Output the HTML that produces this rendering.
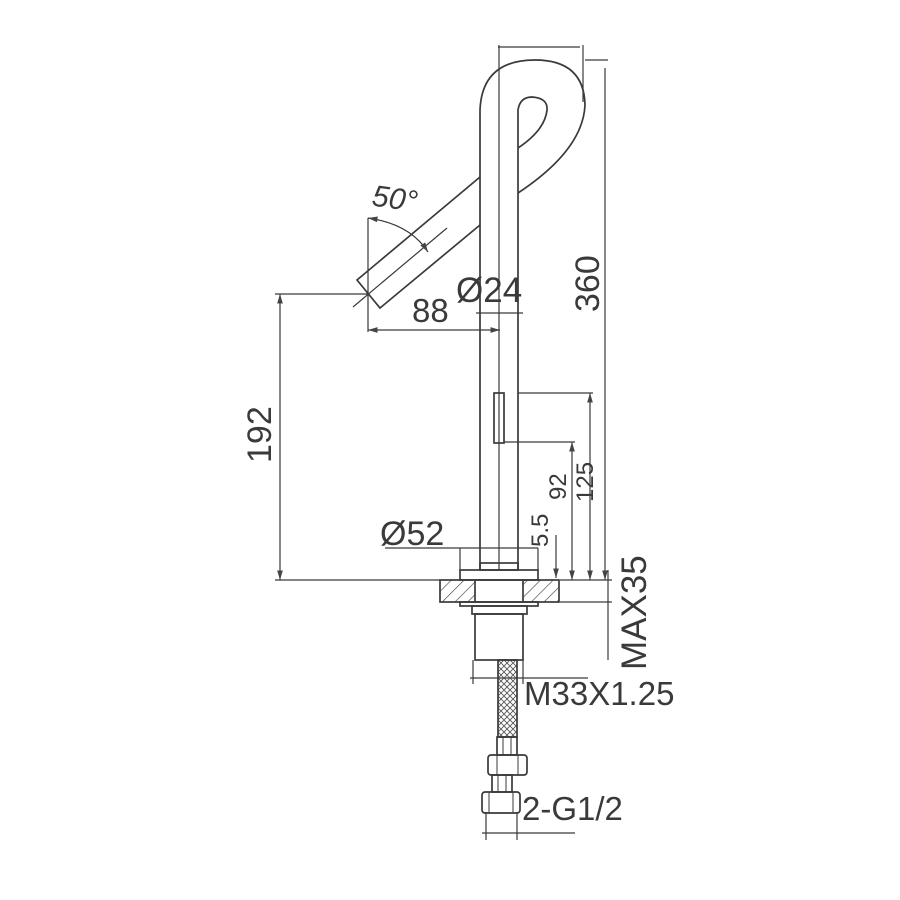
<!DOCTYPE html>
<html><head><meta charset="utf-8"><style>html,body{margin:0;padding:0;background:#fff}svg{display:block}</style></head><body>
<svg width="900" height="900" viewBox="0 0 900 900" xmlns="http://www.w3.org/2000/svg">
<defs>
<pattern id="h" width="9" height="9" patternUnits="userSpaceOnUse" patternTransform="rotate(45)"><line x1="0" y1="0" x2="0" y2="9" stroke="#444" stroke-width="1.3"/></pattern>
<pattern id="br" width="6" height="6" patternUnits="userSpaceOnUse"><path d="M0 6L6 0M0 0L6 6" stroke="#555" stroke-width="0.9"/></pattern>
<marker id="a" viewBox="0 0 10 6" refX="10" refY="3" markerWidth="8" markerHeight="5" orient="auto-start-reverse"><path d="M0 0L10 3L0 6z" fill="#444"/></marker>
</defs>
<g fill="none" stroke="#3a3a3a" stroke-width="1.7">
<path d="M480 570 L480 110 Q482 60 535 60 Q584 60 585 105 Q583 150 518 193"/>
<path d="M518 570 L518 110 Q520 97 532 97 Q548 98 547 110 Q545 130 518 148"/>
<line x1="499" y1="45" x2="499" y2="570" stroke-width="1.2"/>
<path d="M480 177 L357 280 L380 308 L480 225"/>
<line x1="447" y1="228" x2="353" y2="307" stroke-width="1.2"/>
<line x1="368" y1="218" x2="368" y2="332" stroke-width="1.2"/>
<path d="M368 218 Q410 224 428 252" stroke-width="1.2" marker-start="url(#a)" marker-end="url(#a)"/>
<line x1="368" y1="330" x2="500" y2="330" stroke-width="1.2" marker-start="url(#a)" marker-end="url(#a)"/>
<line x1="476" y1="313" x2="523" y2="313" stroke-width="1.2"/>
<line x1="498" y1="47" x2="580" y2="47" stroke-width="1.2"/>
<line x1="583" y1="45" x2="583" y2="102" stroke-width="1.2"/>
<line x1="585" y1="60" x2="608" y2="60" stroke-width="1.2"/>
<line x1="605" y1="68" x2="605" y2="580" stroke-width="1.2" marker-end="url(#a)"/>
<line x1="275" y1="294" x2="368" y2="294" stroke-width="1.2"/>
<line x1="280" y1="294" x2="280" y2="580" stroke-width="1.2" marker-start="url(#a)" marker-end="url(#a)"/>
<line x1="275" y1="580" x2="440" y2="580" stroke-width="1.2"/>
<rect x="494" y="393" width="10" height="50"/>
<line x1="499" y1="393" x2="499" y2="443" stroke-width="1"/>
<line x1="518" y1="393" x2="593" y2="393" stroke-width="1.2"/>
<line x1="590" y1="393" x2="590" y2="580" stroke-width="1.2" marker-start="url(#a)" marker-end="url(#a)"/>
<line x1="504" y1="442" x2="575" y2="442" stroke-width="1.2"/>
<line x1="572" y1="442" x2="572" y2="580" stroke-width="1.2" marker-start="url(#a)" marker-end="url(#a)"/>
<rect x="480" y="563" width="38" height="7"/>
<rect x="460" y="570" width="78" height="10"/>
<line x1="385" y1="548" x2="538" y2="548" stroke-width="1.2"/>
<line x1="460" y1="548" x2="460" y2="570" stroke-width="1.2"/>
<line x1="538" y1="548" x2="538" y2="570" stroke-width="1.2"/>
<line x1="556" y1="535" x2="556" y2="578" stroke-width="1.2" marker-end="url(#a)"/>
<rect x="440" y="580" width="35" height="22" fill="url(#h)"/>
<rect x="523" y="580" width="36" height="22" fill="url(#h)"/>
<line x1="475" y1="580" x2="523" y2="580"/><line x1="475" y1="602" x2="523" y2="602"/>
<line x1="560" y1="580" x2="612" y2="580" stroke-width="1.2"/>
<line x1="560" y1="602" x2="612" y2="602" stroke-width="1.2"/>
<line x1="608" y1="570" x2="608" y2="660" stroke-width="1.2"/>
<rect x="460" y="602" width="78" height="4"/>
<rect x="472" y="606" width="55" height="8"/>
<rect x="475" y="614" width="48" height="46"/>
<line x1="473" y1="660" x2="473" y2="684" stroke-width="1.2"/>
<line x1="523" y1="660" x2="523" y2="684" stroke-width="1.2"/>
<line x1="470" y1="678" x2="588" y2="678" stroke-width="1.2"/>
<rect x="498" y="660" width="19" height="77" fill="url(#br)"/>
<rect x="497" y="737" width="20" height="18"/>
<line x1="503" y1="737" x2="503" y2="755" stroke-width="1"/><line x1="511" y1="737" x2="511" y2="755" stroke-width="1"/>
<rect x="488" y="755" width="39" height="20" rx="3"/>
<line x1="497" y1="755" x2="497" y2="775" stroke-width="1"/><line x1="518" y1="755" x2="518" y2="775" stroke-width="1"/>
<rect x="492" y="775" width="20" height="17"/>
<line x1="498" y1="775" x2="498" y2="792" stroke-width="1"/><line x1="506" y1="775" x2="506" y2="792" stroke-width="1"/>
<rect x="482" y="792" width="38" height="21" rx="3"/>
<line x1="489" y1="792" x2="489" y2="813" stroke-width="1"/><line x1="513" y1="792" x2="513" y2="813" stroke-width="1"/>
<line x1="486" y1="812" x2="486" y2="840" stroke-width="1.2"/>
<line x1="517" y1="812" x2="517" y2="840" stroke-width="1.2"/>
<line x1="482" y1="833" x2="575" y2="833" stroke-width="1.2"/>
</g>
<g fill="#3a3a3a" font-family="Liberation Sans, sans-serif" font-size="33">
<text x="372" y="208" font-size="30" font-style="italic" transform="rotate(8 390 200)">50°</text>
<text x="412" y="322">88</text>
<text x="456" y="302" font-size="35">Ø24</text>
<text x="380" y="545" font-size="34">Ø52</text>
<text x="524" y="705">M33X1.25</text>
<text x="522" y="820">2-G1/2</text>
<text font-size="34" transform="translate(599 312) rotate(-90)">360</text>
<text font-size="34" transform="translate(271 463) rotate(-90)">192</text>
<text font-size="24" transform="translate(566 500) rotate(-90)">92</text>
<text font-size="24" transform="translate(593 502) rotate(-90)">125</text>
<text font-size="24" transform="translate(548 547) rotate(-90)">5.5</text>
<text font-size="35" transform="translate(646 670) rotate(-90)">MAX35</text>
</g>
</svg>
</body></html>
